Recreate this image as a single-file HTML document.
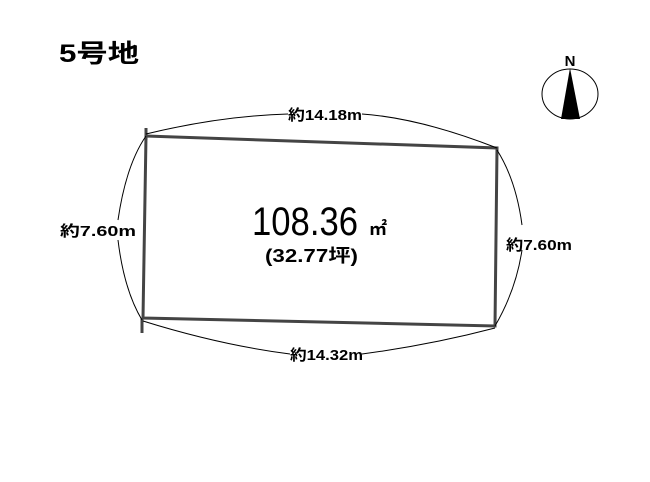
<!DOCTYPE html>
<html><head><meta charset="utf-8"><style>
body{margin:0;background:#fff;width:650px;height:482px;overflow:hidden}
svg{display:block}
text{font-family:"Liberation Sans","Noto Sans CJK JP",sans-serif;font-weight:bold;fill:#000}
</style></head><body>
<svg width="650" height="482" viewBox="0 0 650 482">
<text x="59" y="62" font-size="25" textLength="80" lengthAdjust="spacingAndGlyphs">5号地</text>
<text x="570" y="66" font-size="15" text-anchor="middle">N</text>
<ellipse cx="570" cy="94" rx="28" ry="25" fill="none" stroke="#000" stroke-width="1"/>
<polygon points="570,68 561,119 580,119" fill="#000"/>
<polygon points="146,136 497,148 495,326 143,318" fill="none" stroke="#444" stroke-width="3"/>
<line x1="146" y1="128" x2="146" y2="140" stroke="#444" stroke-width="3"/>
<line x1="142" y1="318" x2="142" y2="333" stroke="#444" stroke-width="3"/>
<g fill="none" stroke="#000" stroke-width="1">
<path d="M146,134 Q220,116 288,114"/>
<path d="M362,114 Q420,118 497,148"/>
<path d="M146,136 Q126,165 118,220"/>
<path d="M118,240 Q124,290 142,320"/>
<path d="M497,150 Q516,180 522,225"/>
<path d="M522,250 Q516,290 495,326"/>
<path d="M143,321 Q220,345 290,354"/>
<path d="M362,354 Q430,345 495,328"/>
</g>
<text x="288" y="120" font-size="15" textLength="74" lengthAdjust="spacingAndGlyphs">約14.18m</text>
<text x="60" y="236" font-size="15" textLength="76" lengthAdjust="spacingAndGlyphs">約7.60m</text>
<text x="506" y="250" font-size="15" textLength="66" lengthAdjust="spacingAndGlyphs">約7.60m</text>
<text x="290" y="360" font-size="15" textLength="73" lengthAdjust="spacingAndGlyphs">約14.32m</text>
<text x="252" y="235" font-size="40" style="font-weight:normal" textLength="106" lengthAdjust="spacingAndGlyphs">108.36</text>
<text x="369" y="235" font-size="18">㎡</text>
<text x="265" y="262" font-size="18" textLength="93" lengthAdjust="spacingAndGlyphs">(32.77坪)</text>
</svg>
</body></html>
